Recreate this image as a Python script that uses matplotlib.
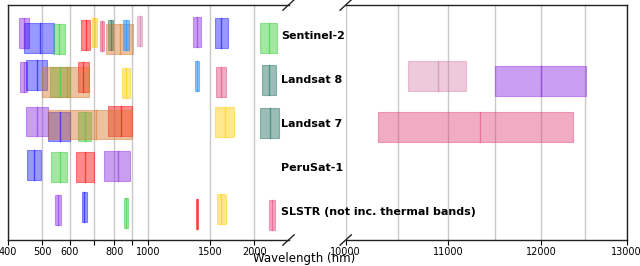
import matplotlib
matplotlib.use('Agg')
import matplotlib.pyplot as plt
from matplotlib.patches import Rectangle

# band colours, in the order bands are listed for each sensor
palette = ['#8a2be2', '#0000ff', '#32cd32', '#ff0000', '#ffcc00',
           '#e0457b', '#1f6f5f', '#d8782e', '#1e90ff', '#d27aa8']
alphas = [0.45, 0.4, 0.45, 0.45, 0.45, 0.45, 0.45, 0.45, 0.5, 0.4]

satellites = ['Sentinel-2', 'Landsat 8', 'Landsat 7', 'PeruSat-1', 'SLSTR (not inc. thermal bands)']

# band edges in nm and the small vertical shift of each band (rows are 1 unit apart)
s2_lo = [430.4, 443.4, 537.3, 645.6, 694.6, 731.5, 768.8, 760.3, 848.2, 932.1, 1336.0, 1542.2, 2081.4]
s2_hi = [457.4, 541.4, 582.3, 683.6, 713.6, 749.5, 796.8, 905.3, 881.2, 958.1, 1411.0, 1685.2, 2323.4]
s2_dy = [-0.056, 0.041, 0.068, -0.018, -0.075, -0.005, -0.018, 0.075, -0.018, -0.118, -0.095, -0.068, 0.056]

l8_lo = [433, 450, 525, 630, 845, 1560, 2100, 500, 1360, 10600, 11500]
l8_hi = [453, 515, 600, 680, 885, 1660, 2300, 680, 1390, 11190, 12510]
l8_dy = [-0.058, -0.1, 0.044, -0.055, 0.073, 0.058, 0.012, 0.051, -0.078, -0.085, 0.017]

l7_lo = [450, 520, 630, 770, 1550, 10310, 2080, 520]
l7_hi = [520, 600, 690, 900, 1750, 12360, 2350, 900]
l7_dy = [-0.052, 0.061, 0.061, -0.061, -0.034, 0.072, -0.016, 0.016]

ps_lo = [750, 452, 530, 625]
ps_hi = [887, 497, 590, 700]
ps_dy = [-0.046, -0.062, -0.028, -0.017]

sl_lo = [545, 649, 855, 1367.5, 1565, 2200]
sl_hi = [565, 669, 875, 1382.5, 1662, 2295]
sl_dy = [-0.05, -0.106, 0.018, 0.045, -0.068, 0.075]

bands = [(s2_lo, s2_hi, s2_dy), (l8_lo, l8_hi, l8_dy), (l7_lo, l7_hi, l7_dy),
         (ps_lo, ps_hi, ps_dy), (sl_lo, sl_hi, sl_dy)]

left_ticks = [400, 500, 600, 700, 800, 900, 1000, 1500, 2000]
left_labels = ['400', '500', '600', '', '800', '', '1000', '1500', '2000']
right_ticks = [10000, 11000, 12000, 13000]
right_grid = [10500, 11500, 12500]

bar_h = 0.68

fig = plt.figure(figsize=(6.4, 2.66), dpi=100)
ax1 = fig.add_axes([8 / 640, 26 / 266, 280.5 / 640, 235 / 266])
ax2 = fig.add_axes([345.7 / 640, 26 / 266, 281 / 640, 235 / 266])
# labels on the left panel run over the right one
ax1.set_zorder(3)
ax1.patch.set_alpha(0)

for ax in (ax1, ax2):
    ax.set_xscale('log')
    ax.set_ylim(4.64, -0.70)
    ax.set_yticks([])
    ax.minorticks_off()
    for row, (lo, hi, dy) in enumerate(bands):
        for i, (a, b, d) in enumerate(zip(lo, hi, dy)):
            c = palette[i % len(palette)]
            al = alphas[i % len(palette)]
            y0 = row + d - bar_h / 2
            ax.add_patch(Rectangle((a, y0), b - a, bar_h, facecolor=c, alpha=al,
                                   edgecolor=c, linewidth=0.8, zorder=2))
            mid = (a + b) / 2
            ax.plot([mid, mid], [y0, y0 + bar_h], color=c, alpha=0.55, lw=1, zorder=3)
    ax.tick_params(axis='x', labelsize=7, length=3.5, width=0.8, pad=1.5)
    for s in ax.spines.values():
        s.set_color('#222222')
        s.set_linewidth(1)

ax1.set_xlim(400, 2500)
ax1.set_xticks(left_ticks)
ax1.set_xticklabels(left_labels)
ax1.spines['right'].set_visible(False)
ax1.grid(axis='x', color='#c8c8c8', lw=1, zorder=0)

ax2.set_xlim(10000, 13000)
ax2.set_xticks(right_ticks + right_grid)
ax2.set_xticklabels([str(t) for t in right_ticks] + ['' for t in right_grid])
ax2.spines['left'].set_visible(False)
ax2.grid(axis='x', color='#c8c8c8', lw=1, zorder=0)
for tk in ax2.xaxis.get_major_ticks()[len(right_ticks):]:
    tk.tick1line.set_visible(False)

for row, name in enumerate(satellites):
    ax1.text(2380, row, name, fontsize=8, fontweight='bold', va='center', ha='left',
             clip_on=False, zorder=5)

# break marks
dx, dy = 0.02, 0.022
kw = dict(color='#222222', lw=1, clip_on=False)
ax1.plot((1 - dx, 1 + dx), (-dy, dy), transform=ax1.transAxes, **kw)
ax1.plot((1 - dx, 1 + dx), (1 - dy, 1 + dy), transform=ax1.transAxes, **kw)
ax2.plot((-dx, dx), (-dy, dy), transform=ax2.transAxes, **kw)
ax2.plot((-dx, dx), (1 - dy, 1 + dy), transform=ax2.transAxes, **kw)

fig.text(0.475, 0.028, 'Wavelength (nm)', fontsize=8.5, ha='center', va='center')

fig.savefig('out.png', dpi=100)
